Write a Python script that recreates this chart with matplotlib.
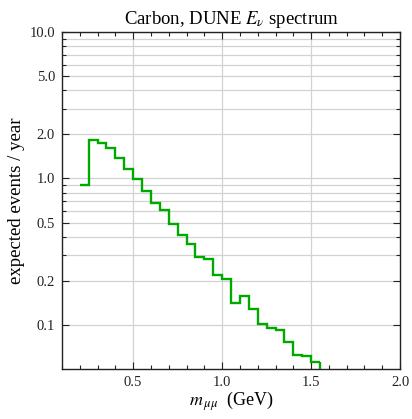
import numpy as np
import matplotlib
matplotlib.use('Agg')
import matplotlib.pyplot as plt
from matplotlib.ticker import FixedLocator, FixedFormatter, NullFormatter

# bin edges (GeV) and expected events per bin
bin_edges = [0.20, 0.25, 0.30, 0.35, 0.40, 0.45, 0.50, 0.55, 0.60, 0.65,
             0.70, 0.75, 0.80, 0.85, 0.90, 0.95, 1.00, 1.05, 1.10, 1.15,
             1.20, 1.25, 1.30, 1.35, 1.40, 1.45, 1.50, 1.55]
events = [0.90, 1.83, 1.76, 1.61, 1.37, 1.16, 0.985, 0.823, 0.675, 0.605,
          0.485, 0.410, 0.355, 0.292, 0.284, 0.218, 0.205, 0.142, 0.158, 0.1276,
          0.101, 0.0946, 0.0917, 0.0765, 0.0628, 0.0618, 0.0557]

x_major = [0.5, 1.0, 1.5, 2.0]
x_major_labels = ['0.5', '1.0', '1.5', '2.0']
y_major = [0.1, 0.2, 0.5, 1.0, 2.0, 5.0, 10.0]
y_major_labels = ['0.1', '0.2', '0.5', '1.0', '2.0', '5.0', '10.0']

plt.rcParams['font.family'] = ['Liberation Serif', 'DejaVu Serif']
plt.rcParams['mathtext.fontset'] = 'stix'

fig = plt.figure(figsize=(4.12, 4.19), dpi=100)
ax = fig.add_axes([0.1505, 0.1193, 0.8205, 0.8043])

ax.set_yscale('log')
ax.set_xlim(0.1, 2.0)
ax.set_ylim(0.05, 10.0)

# grid lines: every 0.1 below 1, every 1 above 1
grid_y = [v / 10 for v in range(1, 10)] + [float(v) for v in range(1, 11)]
for gy in grid_y:
    ax.axhline(gy, color='#d2d2d2', lw=0.9, zorder=0)
for gx in [0.5, 1.0, 1.5]:
    ax.axvline(gx, color='#d2d2d2', lw=0.9, zorder=0)

ax.stairs(events, bin_edges, baseline=None, color='#00a800', lw=1.7, zorder=3)
ax.vlines(bin_edges[-1], 0.05, events[-1], color='#00a800', lw=1.7, zorder=3)

ax.xaxis.set_major_locator(FixedLocator(x_major))
ax.xaxis.set_major_formatter(FixedFormatter(x_major_labels))
ax.xaxis.set_minor_locator(FixedLocator(np.arange(0.1, 2.01, 0.1)))
ax.yaxis.set_major_locator(FixedLocator(y_major))
ax.yaxis.set_major_formatter(FixedFormatter(y_major_labels))
ax.yaxis.set_minor_locator(FixedLocator([g for g in grid_y if g not in y_major]))
ax.yaxis.set_minor_formatter(NullFormatter())

ax.tick_params(which='both', direction='in', top=True, right=True,
               labelsize=10.5, colors='#222222', width=0.8)
ax.tick_params(which='major', length=5, pad=5)
ax.tick_params(which='minor', length=2.8)
for s in ax.spines.values():
    s.set_linewidth(1.0)
    s.set_color('#222222')

ax.set_title(r'Carbon, DUNE $E_\nu$ spectrum', fontsize=13.5, pad=6)
ax.set_xlabel(r'$m_{\,\mu\mu}$  (GeV)', fontsize=13, labelpad=0)
ax.set_ylabel('expected events / year', fontsize=13.5, labelpad=3)

fig.savefig('out.png', dpi=100)
